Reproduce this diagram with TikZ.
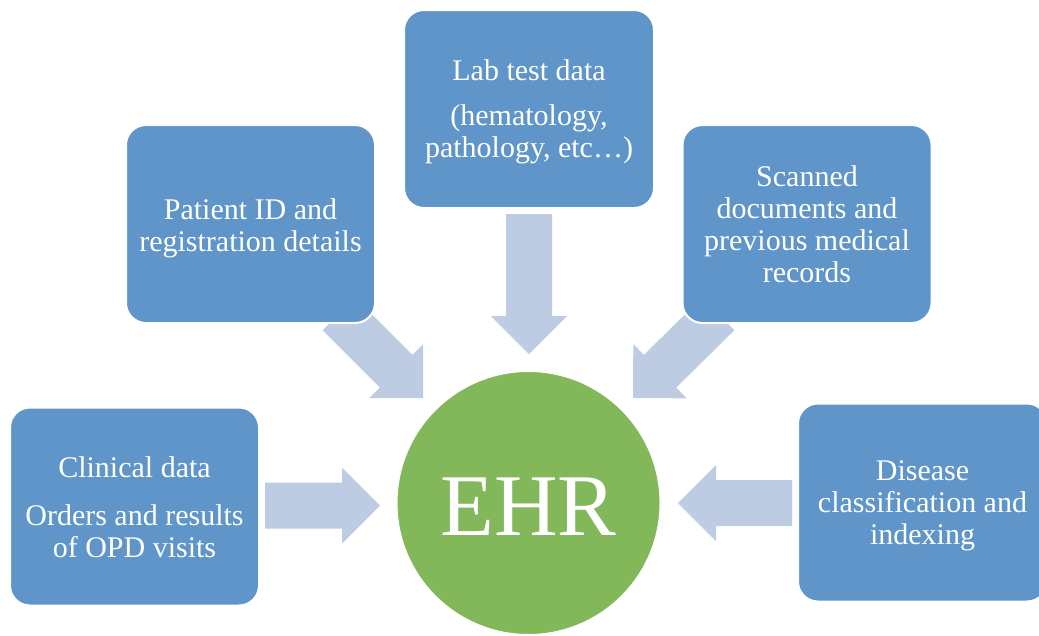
\documentclass[tikz,border=0pt]{standalone}
\usepackage{fontspec}
\setmainfont{Liberation Serif}
\usetikzlibrary{calc}
\definecolor{boxblue}{HTML}{5F95C8}
\definecolor{arrowblue}{HTML}{BDCCE3}
\definecolor{ehrgreen}{HTML}{82B75A}
\newcommand\blockarrow[2]{%
  \coordinate (#1-#2-b) at ($(#2)!38pt!(#1)$);
  \fill[arrowblue] ($(#1)!23pt!90:(#2)$) -- ($(#1-#2-b)!23pt!90:(#2)$) -- ($(#1-#2-b)!38pt!90:(#2)$) -- (#2) -- ($(#1-#2-b)!38pt!-90:(#2)$) -- ($(#1-#2-b)!23pt!-90:(#2)$) -- ($(#1)!23pt!-90:(#2)$) -- cycle;}
\begin{document}
\begin{tikzpicture}[x=1pt,y=-1pt,
  srcbox/.style={rectangle, rounded corners=20pt, fill=boxblue, draw=white, line width=2pt,
    minimum width=249pt, minimum height=198pt, text=white, align=center,
    font=\fontsize{30}{32}\selectfont, inner sep=0pt},
  ehrcircle/.style={circle, fill=ehrgreen, draw=white, line width=1pt, minimum size=263pt, inner sep=0pt},
  ehrtext/.style={text=white, font=\fontsize{88}{90}\selectfont, inner sep=0pt}]
\useasboundingbox (0,0) rectangle (1039,635);
\clip (0,0) rectangle (1039,635);
\fill[white] (0,0) rectangle (1039,635);
% arrow anchor coordinates
\coordinate (clinS) at (265,505.5);
\coordinate (clinT) at (380,505.5);
\coordinate (disS) at (792,503);
\coordinate (disT) at (678,503);
\coordinate (labS) at (529,214);
\coordinate (labT) at (529,354);
\coordinate (patS) at (338.9,313.9);
\coordinate (patT) at (423,398);
\coordinate (scaS) at (718.1,313.9);
\coordinate (scaT) at (633,398);
\blockarrow{clinS}{clinT}
\blockarrow{disS}{disT}
\blockarrow{labS}{labT}
\blockarrow{patS}{patT}
\blockarrow{scaS}{scaT}
% boxes
\node[srcbox] (clin) at (134.5,506.5) {\rule{0pt}{23pt}Clinical data\\[16pt]Orders and results\\of OPD visits};
\node[srcbox] (pat) at (250.5,224) {\rule{0pt}{29pt}Patient ID and\\registration details};
\node[srcbox, minimum width=250pt] (lab) at (529,109) {\rule{0pt}{27pt}Lab test data\\[13pt](hematology,\\pathology, etc…)};
\node[srcbox] (sca) at (807,224) {Scanned\\documents and\\previous medical\\records};
\node[srcbox] (dis) at (922.5,502.5) {\rule{0pt}{27pt}Disease\\classification and\\indexing};
% EHR
\node[ehrcircle] (ehr) at (528.5,503) {};
\node[ehrtext] (ehrlabel) at ($(ehr.center)+(0,4)$) {EHR};
\end{tikzpicture}
\end{document}
